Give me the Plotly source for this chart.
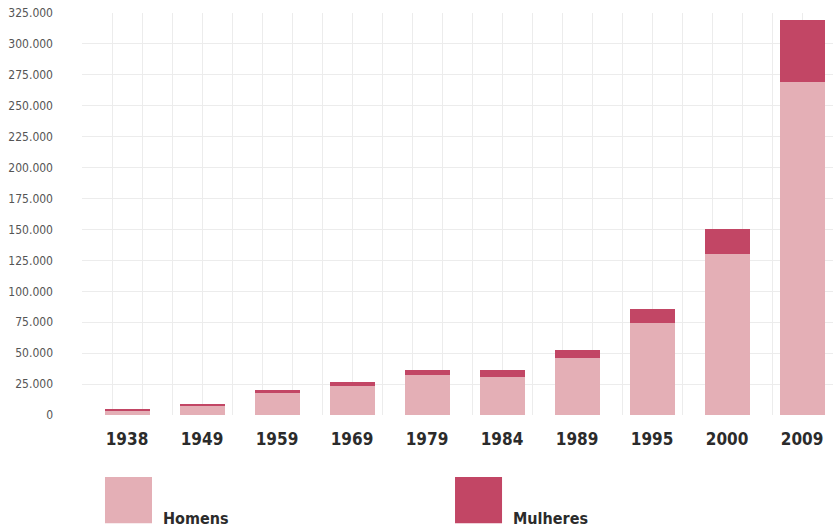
import plotly.graph_objects as go

years = ["1938", "1949", "1959", "1969", "1979", "1984", "1989", "1995", "2000", "2009"]
homens = [3800, 8000, 18000, 23500, 32000, 31000, 46000, 74000, 130500, 269000]
mulheres = [600, 1200, 2600, 3300, 4300, 5200, 6600, 11500, 20000, 50300]
series_names = ["Homens", "Mulheres"]
series_colors = ["#e4afb6", "#c24665"]
ytick_vals = list(range(0, 325001, 25000))

FONT = "Liberation Sans Narrow, Arial Narrow, DejaVu Sans Condensed, sans-serif"

fig = go.Figure()
for name, vals, col in zip(series_names, [homens, mulheres], series_colors):
    fig.add_trace(go.Bar(x=years, y=vals, name=name, marker=dict(color=col, line=dict(width=0)),
                         showlegend=False))

# invisible trace on the overlay axis that carries the vertical grid
fig.add_trace(go.Scatter(x=[0], y=[0], xaxis="x2", mode="markers",
                         marker=dict(opacity=0), hoverinfo="skip", showlegend=False))

fig.update_layout(
    width=833, height=532,
    margin=dict(l=82, r=0, t=13, b=117),
    barmode="stack", bargap=0.4,
    paper_bgcolor="white", plot_bgcolor="white",
    separators=",.",
    xaxis=dict(type="category", range=[-0.6, 9.413], showgrid=False, zeroline=False,
               showline=False, ticks="", ticklabelstandoff=12,
               tickfont=dict(family=FONT, size=17, color="#2b2b2b", weight="bold")),
    xaxis2=dict(overlaying="x", range=[0, 25.033], dtick=1, showgrid=True,
                gridcolor="#ececec", gridwidth=1, showticklabels=False, zeroline=False,
                side="bottom"),
    yaxis=dict(range=[0, 325000], tickvals=ytick_vals, tickformat=",d",
               showgrid=True, gridcolor="#ececec", gridwidth=1, zeroline=False,
               ticklabelstandoff=28,
               tickfont=dict(family=FONT, size=12, color="#555555")),
)

# legend drawn as squares and labels below the chart
legend_x = [0.0306, 0.4967]
for name, col, lx in zip(series_names, series_colors, legend_x):
    fig.add_shape(type="rect", xref="paper", yref="paper",
                  x0=lx, x1=lx + 0.0626, y0=-0.154, y1=-0.269,
                  fillcolor=col, line=dict(width=0))
    fig.add_annotation(x=lx + 0.075, y=-0.285, xref="paper", yref="paper",
                       text=f"<b>{name}</b>", showarrow=False, xanchor="left", yanchor="bottom",
                       font=dict(family=FONT, size=16, color="#2b2b2b"))

fig.write_html("out.html")
